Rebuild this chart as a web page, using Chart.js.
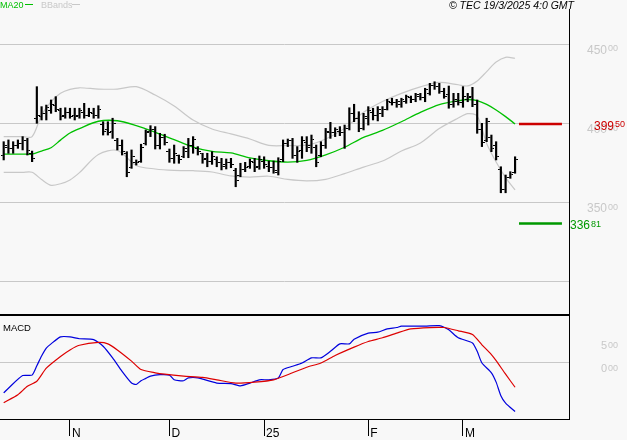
<!DOCTYPE html>
<html>
<head>
<meta charset="utf-8">
<script src="https://cdn.jsdelivr.net/npm/chart.js@4.4.1/dist/chart.umd.min.js"></script>
<style>
  html, body { margin: 0; padding: 0; background: #f8f8f8; }
  #wrap { position: relative; width: 627px; height: 440px; overflow: hidden; }
  #priceBox { position: absolute; left: 0; top: 0; width: 627px; height: 316px; }
  #macdBox { position: absolute; left: 0; top: 316px; width: 627px; height: 124px; }
</style>
</head>
<body>
<div id="wrap">
  <div id="priceBox"><canvas id="priceChart"></canvas></div>
  <div id="macdBox"><canvas id="macdChart"></canvas></div>
</div>
<script>
// daily bars, 14 Oct 2024 .. 18 Mar 2025
const highs = [388.4, 389.5, 388.4, 389.5, 391.6, 390.5, 382.5, 423.1, 410.5, 411.5,
  414.7, 416.8, 409.5, 409.8, 409.5, 409.5, 409.5, 412.6, 409.5, 409.5,
  411.1, 401.0, 401.0, 403.2, 390.5, 389.5, 382.1, 383.2, 376.9, 386.8,
  395.8, 398.5, 397.9, 393.7, 393.1, 383.8, 386.3, 380.0, 385.3, 390.5,
  391.6, 385.3, 381.1, 381.1, 382.1, 378.9, 377.9, 377.5, 377.9, 371.6,
  374.8, 375.4, 377.5, 377.9, 379.4, 378.9, 376.2, 376.2, 378.3, 389.5,
  390.1, 390.5, 385.3, 391.6, 391.6, 392.6, 386.3, 388.4, 396.8, 400.6,
  397.2, 397.9, 398.9, 409.8, 412.0, 407.3, 406.3, 410.5, 409.5, 410.5,
  410.5, 415.1, 415.8, 415.1, 415.8, 417.8, 417.2, 418.9, 418.9, 422.1,
  425.2, 426.2, 425.2, 422.1, 423.5, 418.9, 418.9, 423.1, 418.9, 422.7,
  414.7, 400.0, 403.2, 392.6, 388.4, 372.6, 367.4, 369.5, 378.9];
const lows = [376.9, 381.1, 381.1, 384.2, 383.2, 380.0, 375.8, 400.0, 402.1, 402.1,
  406.3, 407.3, 402.1, 403.2, 403.2, 402.1, 403.2, 403.2, 404.2, 403.2,
  403.2, 392.6, 392.6, 390.5, 383.2, 380.0, 366.3, 371.6, 373.7, 375.4,
  386.3, 391.6, 383.8, 383.8, 386.3, 375.4, 374.8, 374.8, 378.3, 378.3,
  381.1, 380.0, 374.8, 372.6, 374.1, 372.6, 370.6, 371.2, 372.0, 360.0,
  366.3, 369.5, 371.6, 369.5, 371.0, 371.6, 369.5, 368.5, 367.4, 375.8,
  385.3, 377.9, 375.4, 377.9, 382.1, 381.1, 372.6, 378.9, 384.2, 390.5,
  391.6, 392.2, 384.2, 395.8, 401.0, 394.7, 395.8, 398.9, 402.1, 401.5,
  404.2, 408.4, 411.5, 410.1, 410.1, 412.6, 413.0, 413.6, 414.7, 413.6,
  417.8, 421.4, 418.9, 415.8, 409.5, 410.1, 411.5, 410.1, 413.6, 410.5,
  393.7, 385.3, 388.4, 382.1, 376.9, 356.2, 356.2, 365.3, 368.5];
const opens = [380, 385, 384, 386, 387, 389, 381, 403, 404, 406,
  408, 411, 408, 405, 407, 405, 405, 407, 405, 406,
  405, 399, 396, 395, 389, 386, 381, 372, 375, 376,
  387, 395, 396, 386, 391, 382, 378, 380, 379, 382,
  386, 384, 381, 378, 376, 377, 375, 374, 375, 370,
  367, 371, 373, 375, 373, 376, 373, 372, 369, 377,
  387, 389, 380, 383, 388, 386, 385, 380, 386, 394,
  394, 395, 394, 397, 406, 403, 397, 403, 407, 405,
  406, 409, 413, 413, 412, 414, 416, 415, 417, 416,
  419, 424, 423, 420, 418, 412, 414, 413, 415, 417,
  412, 396, 389, 391, 386, 371, 358, 366, 369];
const closes = [386, 384, 386, 387, 389, 383, 378, 405, 406, 410,
  412, 409, 404, 407, 404, 404, 408, 405, 407, 405,
  409, 395, 394, 400, 386, 382, 369, 379, 375, 385,
  394, 396, 386, 391, 388, 378, 381, 377, 384, 386,
  390, 382, 377, 376, 379, 375, 373, 375, 374, 364,
  371, 372, 376, 372, 377, 374, 372, 370, 376, 387,
  389, 380, 382, 389, 385, 390, 375, 386, 395, 394,
  396, 394, 397, 406, 403, 397, 404, 408, 405, 409,
  409, 414, 413, 414, 415, 417, 415, 418, 416, 421,
  424, 423, 420, 417, 412, 415, 413, 417, 416, 412,
  396, 388, 401, 384, 379, 358, 366, 368, 377];

// MA20 and Bollinger bands, read at these bar numbers
const lineIdx = [0, 4, 6, 8, 10, 12, 14, 16, 20, 24, 28, 32, 36, 40, 44, 48, 52,
  56, 60, 64, 68, 72, 76, 80, 84, 88, 92, 96, 98, 100, 102, 104, 106, 108];
const ma20 = [380.6, 380.6, 380.6, 382.5, 384.6, 389.4, 393.9, 396.7, 401.3, 401.6,
  398.5, 394.3, 389.7, 385.0, 382.3, 381.3, 378.2, 376.4, 375.5, 376.6, 380.1,
  384.9, 391.1, 395.5, 401.0, 406.9, 411.8, 414.2, 415.0, 414.3, 411.9, 408.4,
  404.2, 399.6];
const bbUpper = [391.6, 391.6, 391.6, 405.2, 413.6, 418.9, 421.4, 422.4, 421.6, 421.6,
  423.1, 417.8, 410.9, 402.1, 396.4, 393.3, 390.1, 386.1, 386.0, 386.2, 390.1,
  396.8, 406.9, 413.7, 418.9, 423.0, 425.8, 424.3, 423.6, 426.7, 432.6, 438.6,
  441.6, 441.0];
const bbLower = [369.1, 369.1, 369.1, 364.5, 360.9, 361.9, 364.3, 368.9, 380.3, 382.9,
  373.4, 371.2, 370.3, 370.1, 369.3, 366.8, 366.1, 366.6, 364.6, 363.7, 364.7,
  368.3, 372.4, 376.2, 382.5, 387.6, 396.7, 403.3, 406.1, 404.6, 387.3, 375.6,
  365.8, 358.0];

// MACD
const macdIdx = [0, 1, 4, 6, 7, 8, 9, 10, 12, 14, 16, 19, 21, 23, 25, 27, 28, 29, 30,
  31, 33, 35, 36, 38, 39, 41, 45, 48, 50, 52, 54, 56, 58, 59, 61, 63, 65, 67, 69,
  71, 73, 74, 77, 79, 81, 83, 84, 89, 92, 94, 96, 99, 100, 101, 103, 104, 105, 106, 108];
const macdLine = [-6.4, -5.4, -2.7, -2.6, -0.6, 1.5, 3.2, 4.1, 5.6, 5.6, 5.2, 5.0, 3.6,
  1.1, -1.8, -4.3, -4.6, -3.8, -3.3, -2.8, -2.5, -2.6, -3.6, -3.8, -3.2, -3.2, -4.3,
  -4.4, -4.9, -4.3, -3.6, -3.6, -3.2, -1.4, -0.7, 0.0, 1.1, 1.1, 2.5, 4.1, 4.1, 5.1,
  6.4, 6.6, 7.3, 7.6, 7.9, 7.9, 8.0, 7.1, 5.4, 4.3, 2.5, 0.0, -2.1, -4.1, -7.0, -8.6, -10.4];
const signalIdx = [0, 3, 5, 7, 9, 12, 14, 16, 20, 22, 24, 27, 29, 32, 34, 38, 42, 45,
  49, 53, 57, 61, 64, 67, 70, 74, 77, 80, 83, 86, 90, 93, 96, 99, 101, 103, 104, 106, 108];
const signalLine = [-8.5, -6.8, -5.0, -3.9, -1.1, 1.4, 2.8, 3.8, 4.4, 4.1, 2.8, 0.4,
  -1.4, -2.1, -2.4, -2.8, -3.1, -3.6, -4.3, -4.1, -3.6, -2.1, -0.9, 0.0, 1.6, 3.4,
  4.6, 5.4, 6.4, 7.3, 7.6, 7.6, 6.9, 6.1, 3.9, 1.8, 0.5, -2.4, -5.2];

const monthTicks = [14, 35, 55, 77, 97];
const monthLabels = ['N', 'D', '25', 'F', 'M'];
const priceGrid = [300, 350, 400, 450];
const priceLabels = [450, 400, 350];
const macdLabels = [5, 0];
const lastClose = 399.50;
const support = 336.81;

const FONT = '"Liberation Sans", Arial, sans-serif';
const X_MIN = -0.78, X_MAX = 119.39;

function tickImage(left) {
    const c = document.createElement('canvas');
    c.width = 6;
    c.height = 1;
    const g = c.getContext('2d');
    g.fillStyle = '#000';
    g.fillRect(left ? 0 : 4, 0, 2, 1);
    return c;
}

function pts(xs, ys) {
    return xs.map((x, k) => ({ x: x, y: ys[k] }));
}

function splitLabel(ctx, value, x, y, color, big, small, dy) {
    const parts = value.toFixed(2).split('.');
    ctx.fillStyle = color;
    ctx.textAlign = 'left';
    ctx.textBaseline = 'alphabetic';
    ctx.font = big + 'px ' + FONT;
    ctx.fillText(parts[0], x, y);
    const w = ctx.measureText(parts[0]).width;
    ctx.font = small + 'px ' + FONT;
    ctx.fillText(parts[1], x + w + 1, y - dy);
}

const priceDecor = {
    id: 'priceDecor',
    afterDraw(chart) {
        const { ctx, chartArea, scales } = chart;
        const y = scales.y;
        const r = chartArea.right;
        ctx.save();
        // right axis labels
        priceLabels.forEach(v => splitLabel(ctx, v, r + 18, y.getPixelForValue(v) + 9.5, '#c8c8c8', 12, 9, 2.2));
        splitLabel(ctx, lastClose, r + 25, y.getPixelForValue(lastClose) + 5.8, '#cc0000', 12, 9, 2.6);
        splitLabel(ctx, support, r + 1, y.getPixelForValue(support) + 5.6, '#009900', 12, 9, 2.6);

        // legend
        ctx.font = '9px ' + FONT;
        ctx.textAlign = 'left';
        ctx.textBaseline = 'alphabetic';
        ctx.fillStyle = '#00c000';
        ctx.fillText('MA20', 0, 8);
        ctx.fillRect(25, 4, 8, 1);
        ctx.fillStyle = '#c8c8c8';
        ctx.fillText('BBands', 41, 8);
        ctx.fillRect(72, 4, 8, 1);

        ctx.font = 'italic 10.5px ' + FONT;
        ctx.textAlign = 'right';
        ctx.fillStyle = '#000';
        ctx.fillText('\u00a9 TEC 19/3/2025 4:0 GMT', 574, 8.5);

        // panel separator
        ctx.fillRect(0, chartArea.bottom - 1, r + 1, 2);
        ctx.restore();
    }
};

const macdDecor = {
    id: 'macdDecor',
    afterDraw(chart) {
        const { ctx, chartArea, scales } = chart;
        ctx.save();
        macdLabels.forEach(v => splitLabel(ctx, v, chartArea.right + 32, scales.y.getPixelForValue(v) + 9, '#c8c8c8', 11, 9, 0.5));
        ctx.font = '9.5px ' + FONT;
        ctx.fillStyle = '#000';
        ctx.textAlign = 'left';
        ctx.fillText('MACD', 3, 15);
        ctx.restore();
    }
};

const last = highs.length - 1;

new Chart(document.getElementById('priceChart').getContext('2d'), {
    type: 'line',
    data: {
        datasets: [
            {
                type: 'line',
                data: pts(opens.map((o, i) => i), opens),
                showLine: false,
                pointStyle: tickImage(true),
                pointRadius: 3
            },
            {
                type: 'line',
                data: pts(closes.map((c, i) => i), closes),
                showLine: false,
                pointStyle: tickImage(false),
                pointRadius: 3
            },
            {
                type: 'bar',
                data: highs.map((h, i) => ({ x: i, y: [lows[i], h] })),
                backgroundColor: '#000',
                borderWidth: 0,
                barThickness: 1.5
            },
            {
                data: [{ x: last + 0.83, y: lastClose }, { x: last + 9.9, y: lastClose }],
                borderColor: '#cc0000',
                borderWidth: 2.5,
                pointRadius: 0
            },
            {
                data: [{ x: last + 0.83, y: support }, { x: last + 9.9, y: support }],
                borderColor: '#009900',
                borderWidth: 2.5,
                pointRadius: 0
            },
            {
                data: pts(lineIdx, ma20),
                borderColor: '#00c000',
                borderWidth: 1.3,
                pointRadius: 0,
                tension: 0.3
            },
            {
                data: pts(lineIdx, bbUpper),
                borderColor: '#c8c8c8',
                borderWidth: 1.2,
                pointRadius: 0,
                tension: 0.3
            },
            {
                data: pts(lineIdx, bbLower),
                borderColor: '#c8c8c8',
                borderWidth: 1.2,
                pointRadius: 0,
                tension: 0.3
            }
        ]
    },
    options: {
        responsive: true,
        maintainAspectRatio: false,
        animation: false,
        events: [],
        layout: { autoPadding: false, padding: { left: 0, right: 58, top: 9, bottom: 1 } },
        plugins: { legend: { display: false }, tooltip: { enabled: false } },
        scales: {
            x: { type: 'linear', display: false, offset: false, min: X_MIN, max: X_MAX },
            y: {
                position: 'right',
                min: 279.13,
                max: 472.07,
                afterBuildTicks: s => { s.ticks = priceGrid.map(v => ({ value: v })); },
                afterFit: s => { s.width = 0; },
                ticks: { display: false },
                grid: { color: '#c8c8c8', lineWidth: 1, drawTicks: false },
                border: { display: true, color: '#000', width: 1 }
            }
        }
    },
    plugins: [priceDecor]
});

new Chart(document.getElementById('macdChart').getContext('2d'), {
    type: 'line',
    data: {
        datasets: [
            {
                data: pts(signalIdx, signalLine),
                borderColor: '#dd0000',
                borderWidth: 1.2,
                pointRadius: 0,
                tension: 0.2
            },
            {
                data: pts(macdIdx, macdLine),
                borderColor: '#0000dd',
                borderWidth: 1.2,
                pointRadius: 0,
                tension: 0.2
            }
        ]
    },
    options: {
        responsive: true,
        maintainAspectRatio: false,
        animation: false,
        events: [],
        layout: { autoPadding: false, padding: { left: 0, right: 58, top: 0, bottom: 0 } },
        plugins: { legend: { display: false }, tooltip: { enabled: false } },
        scales: {
            x: {
                type: 'linear',
                offset: false,
                min: X_MIN,
                max: X_MAX,
                afterBuildTicks: s => { s.ticks = monthTicks.map(v => ({ value: v })); },
                afterFit: s => { s.height = 21; },
                ticks: {
                    autoSkip: false,
                    maxRotation: 0,
                    align: 'start',
                    labelOffset: 2,
                    padding: -10,
                    color: '#000',
                    font: { family: FONT, size: 12 },
                    callback: v => monthLabels[monthTicks.indexOf(v)]
                },
                grid: { drawOnChartArea: false, drawTicks: true, tickLength: 17, tickColor: '#000', tickWidth: 1 },
                border: { display: true, color: '#000', width: 1 }
            },
            y: {
                position: 'right',
                min: -12.0,
                max: 10.07,
                afterBuildTicks: s => { s.ticks = [{ value: 0 }]; },
                afterFit: s => { s.width = 0; },
                ticks: { display: false },
                grid: { color: '#c8c8c8', lineWidth: 1, drawTicks: false },
                border: { display: true, color: '#000', width: 1 }
            }
        }
    },
    plugins: [macdDecor]
});
</script>
</body>
</html>
